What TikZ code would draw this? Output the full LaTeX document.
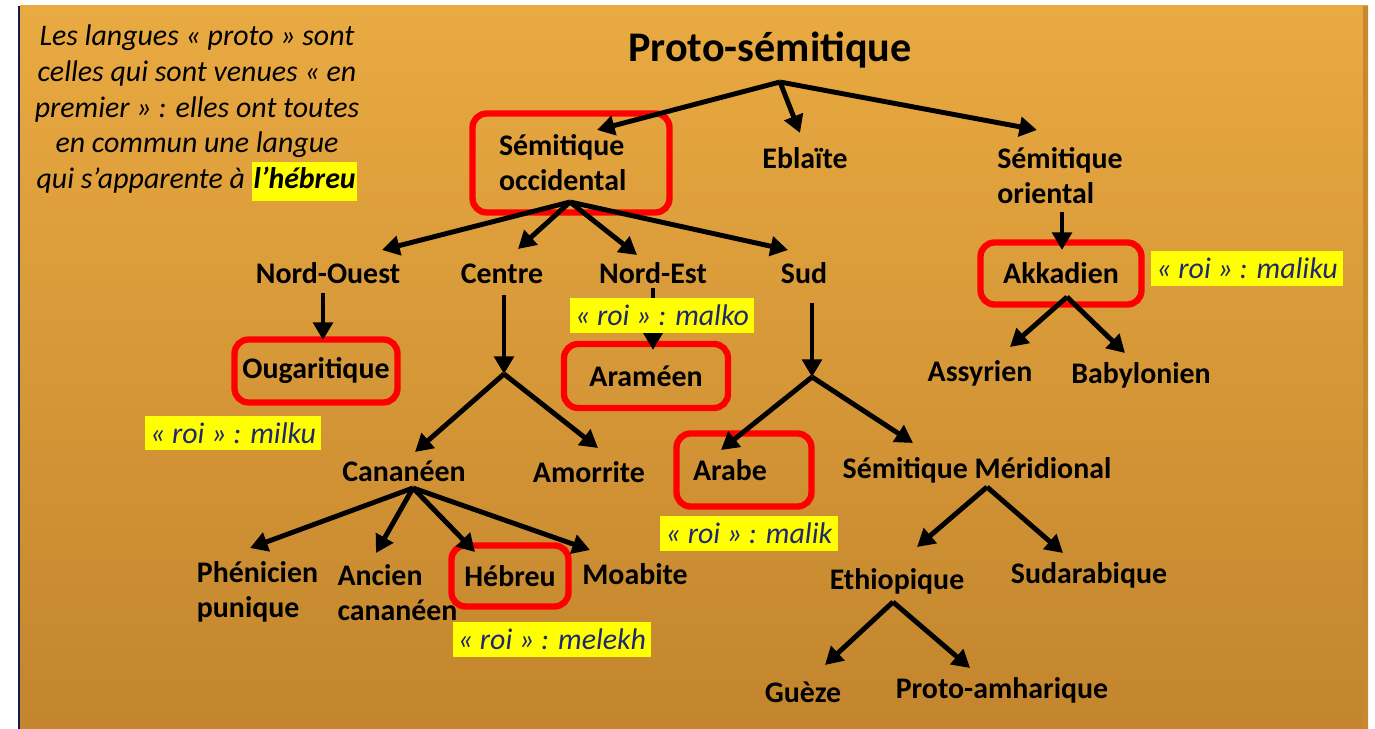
\documentclass[tikz,border=0pt]{standalone}
\usepackage{fontspec}
\setmainfont{Carlito}
\usepackage{tikz}
\usetikzlibrary{arrows.meta}
\definecolor{bgtop}{RGB}{233,170,66}
\definecolor{bgbot}{RGB}{195,133,45}
\definecolor{bgedge}{RGB}{200,136,48}
\definecolor{roinavy}{RGB}{30,40,110}
\definecolor{hl}{RGB}{255,255,0}
\setlength{\fboxsep}{1pt}
\tikzset{
	lang/.style={font=\fontsize{17}{20}\selectfont\bfseries, inner sep=0pt, align=left},
	redbox/.style={lang, draw=red, line width=3.6pt, rounded corners=8pt},
	roi/.style={fill=hl, text=roinavy, font=\fontsize{17}{20}\selectfont\itshape, inner xsep=3pt, inner ysep=0pt, minimum height=0.7cm},
	arr/.style={-{Triangle[length=10pt,width=11pt]}, line width=2.8pt, black},
}
\begin{document}
\begin{tikzpicture}[x=0.02cm,y=-0.02cm]
	\fill[white] (0,0) rectangle (1375,729);
	\useasboundingbox (0,0) rectangle (1375,729);
	\shade[top color=bgtop, bottom color=bgbot] (20,6) rectangle (1368,729);
	\fill[bgedge] (1363,6) rectangle (1368,729);
	\draw[roinavy!70!black, line width=1.2pt] (19,6) -- (19,729);

	\node[font=\fontsize{17}{20.3}\selectfont\itshape, align=center, inner sep=0pt] (intro) at (197,113) {Les langues « proto » sont\\celles qui sont venues « en\\premier » : elles ont toutes\\en commun une langue\\qui s’apparente à \colorbox{hl}{\strut\bfseries l’hébreu}};

	\node[lang, font=\fontsize{24}{28}\selectfont\bfseries] (title) at (770,50) {Proto-sémitique};
	\node[redbox, text width=2.88cm, inner xsep=0.53cm, minimum height=1.98cm] (occ) at (571,163) {Sémitique\\occidental};
	\node[lang] (ebl) at (805,158) {Eblaïte};
	\node[lang] (ori) at (1060,176) {Sémitique\\oriental};
	\node[redbox, minimum width=3.22cm, minimum height=1.24cm] (akk) at (1061,273.5) {Akkadien};
	\node[lang] (assy) at (980,373) {Assyrien};
	\node[lang] (baby) at (1141,375) {Babylonien};

	\node[lang] (no) at (328,273) {Nord-Ouest};
	\node[lang] (ce) at (502,274) {Centre};
	\node[lang] (ne) at (653,273) {Nord-Est};
	\node[lang] (sud) at (804,273) {Sud};
	\node[redbox, minimum width=3.26cm, minimum height=1.26cm] (oug) at (316,371) {Ougaritique};
	\node[redbox, minimum width=3.28cm, minimum height=1.28cm] (ara) at (646,376) {Araméen};
	\node[lang] (ca) at (404,471) {Cananéen};
	\node[lang] (amo) at (589,472) {Amorrite};
	\node[redbox, text width=2.04cm, inner xsep=0.33cm, minimum height=1.46cm] (arabe) at (744,470) {Arabe};
	\node[lang] (sm) at (977,470) {Sémitique Méridional};
	\node[lang] (phe) at (257.5,592) {Phénicien\\punique};
	\node[lang] (anc) at (397.5,593) {Ancien\\cananéen};
	\node[redbox, minimum width=2.34cm, minimum height=1.22cm] (heb) at (510,576) {Hébreu};
	\node[lang] (moa) at (635,574) {Moabite};
	\node[lang] (eth) at (897,581) {Ethiopique};
	\node[lang] (sudar) at (1089,575) {Sudarabique};
	\node[lang] (gue) at (803,692) {Guèze};
	\node[lang] (pam) at (1002,690) {Proto-amharique};

	\coordinate (fps) at (780,82);
	\coordinate (focc) at (570,202);
	\coordinate (fori) at (1062,212);
	\coordinate (fakk) at (1067,297);
	\coordinate (fno) at (323,293);
	\coordinate (fce) at (504,295);
	\coordinate (fce2) at (504,374);
	\coordinate (fne) at (653,288);
	\coordinate (fsud) at (812,303);
	\coordinate (fsud2) at (812,377);
	\coordinate (fca) at (413,488);
	\coordinate (fsm) at (987,487);
	\coordinate (feth) at (893,602);

	\draw[arr] (fps) -- ([shift={(26,-33)}]occ.center);
	\draw[arr] (fps) -- ([shift={(-5,-25)}]ebl.center);
	\draw[arr] (fps) -- ([shift={(-23,-46)}]ori.center);
	\draw[arr] (fori) -- ([shift={(1,-23.5)}]akk.center);
	\draw[arr] (fakk) -- ([shift={(30,-26)}]assy.center);
	\draw[arr] (fakk) -- ([shift={(-16,-22)}]baby.center);

	\draw[arr] (focc) -- ([shift={(54,-23)}]no.center);
	\draw[arr] (focc) -- ([shift={(16,-25)}]ce.center);
	\draw[arr] (focc) -- ([shift={(-16,-18)}]ne.center);
	\draw[arr] (focc) -- ([shift={(-16,-23)}]sud.center);

	\draw[arr] (fno) -- ([shift={(7,-31)}]oug.center);
	\draw[arr] (fce) -- (fce2);
	\draw[arr] (fce2) -- ([shift={(11,-19)}]ca.center);
	\draw[arr] (fce2) -- ([shift={(9,-24)}]amo.center);
	\draw[arr] (fne) -- ([shift={(7,-26)}]ara.center);
	\draw[arr] (fsud) -- (fsud2);
	\draw[arr] (fsud2) -- ([shift={(-23,-20)}]arabe.center);
	\draw[arr] (fsud2) -- ([shift={(-64,-27)}]sm.center);

	\draw[arr] (fca) -- ([shift={(-7.5,-44)}]phe.center);
	\draw[arr] (fca) -- ([shift={(-21.5,-40)}]anc.center);
	\draw[arr] (fca) -- ([shift={(-35,-24)}]heb.center);
	\draw[arr] (fca) -- ([shift={(-45,-24)}]moa.center);
	\draw[arr] (fsm) -- ([shift={(20,-34)}]eth.center);
	\draw[arr] (fsm) -- ([shift={(-26,-22)}]sudar.center);
	\draw[arr] (feth) -- ([shift={(22,-27)}]gue.center);
	\draw[arr] (feth) -- ([shift={(-32,-22)}]pam.center);

	\node[roi] (maliku) at (1247,268.5) {« roi » : maliku};
	\node[roi] (milku) at (233,433) {« roi » : milku};
	\node[roi] (malko) at (662,315.5) {« roi » : malko};
	\node[roi] (malik) at (749,533.5) {« roi » : malik};
	\node[roi] (melekh) at (552,639) {« roi » : melekh};
\end{tikzpicture}
\end{document}
